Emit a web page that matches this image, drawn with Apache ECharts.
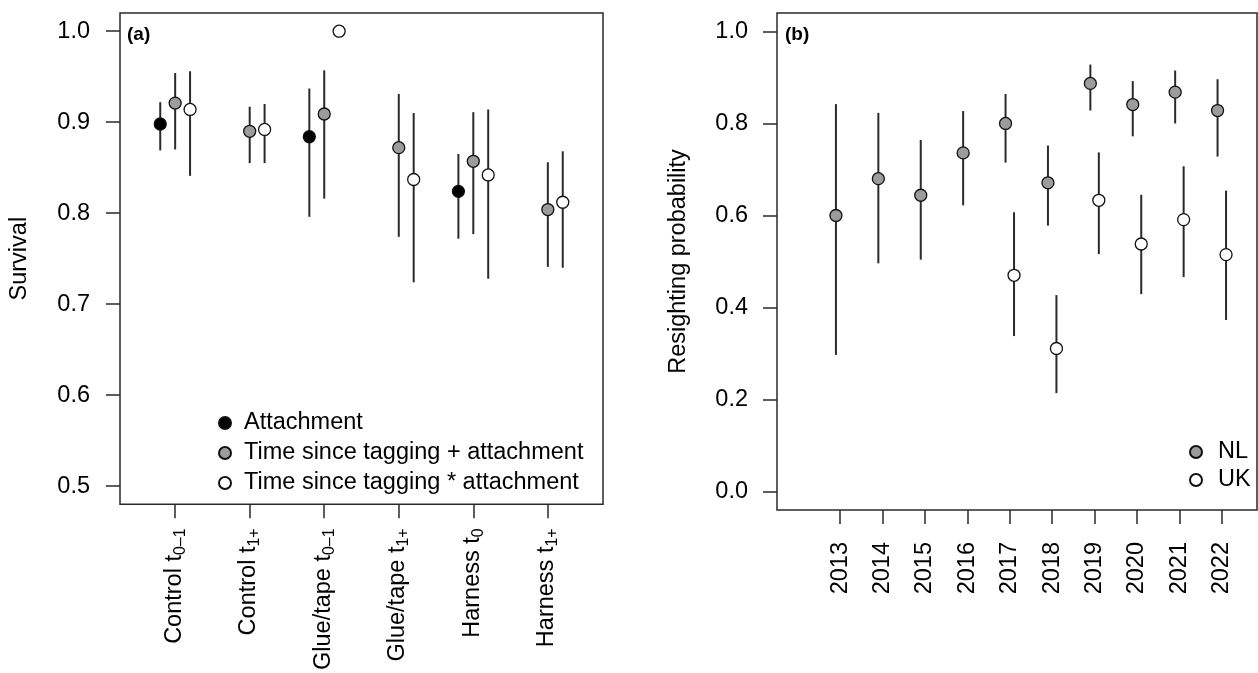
<!DOCTYPE html>
<html><head><meta charset="utf-8">
<script src="https://cdn.jsdelivr.net/npm/echarts@6/dist/echarts.min.js"></script>
<style>html,body{margin:0;padding:0;background:#fff}#c{width:1258px;height:673px}</style>
</head><body><div id="c"></div>
<script>
// ---- Panel (a): survival ----
const treatMain = ['Control t', 'Control t', 'Glue/tape t', 'Glue/tape t', 'Harness t', 'Harness t'];
const treatSub = ['0\u20131', '1+', '0\u20131', '1+', '0', '1+'];
const survTicks = [0.5, 0.6, 0.7, 0.8, 0.9, 1.0];
const attachMean = [0.898, null, 0.884, null, 0.824, null];
const attachLo   = [0.869, null, 0.796, null, 0.772, null];
const attachHi   = [0.922, null, 0.937, null, 0.865, null];
const addMean = [0.921, 0.890, 0.909, 0.872, 0.857, 0.804];
const addLo   = [0.870, 0.855, 0.816, 0.774, 0.777, 0.741];
const addHi   = [0.954, 0.917, 0.957, 0.931, 0.911, 0.856];
const intMean = [0.914, 0.892, 1.000, 0.837, 0.842, 0.812];
const intLo   = [0.841, 0.855, null, 0.724, 0.728, 0.740];
const intHi   = [0.956, 0.920, null, 0.910, 0.914, 0.868];
const seriesNamesA = ['Attachment', 'Time since tagging + attachment', 'Time since tagging * attachment'];

// ---- Panel (b): resighting probability ----
const years = [2013, 2014, 2015, 2016, 2017, 2018, 2019, 2020, 2021, 2022];
const probTicks = [0, 0.2, 0.4, 0.6, 0.8, 1.0];
const nlMean = [0.600, 0.680, 0.644, 0.736, 0.800, 0.671, 0.887, 0.841, 0.868, 0.828];
const nlLo   = [0.297, 0.496, 0.504, 0.622, 0.715, 0.578, 0.828, 0.772, 0.800, 0.728];
const nlHi   = [0.842, 0.823, 0.764, 0.827, 0.864, 0.752, 0.928, 0.892, 0.915, 0.896];
const ukMean = [null, null, null, null, 0.470, 0.311, 0.633, 0.538, 0.591, 0.515];
const ukLo   = [null, null, null, null, 0.338, 0.214, 0.516, 0.429, 0.466, 0.373];
const ukHi   = [null, null, null, null, 0.607, 0.427, 0.737, 0.645, 0.707, 0.654];
const seriesNamesB = ['NL', 'UK'];

const FONT = "'Liberation Sans', Arial, Helvetica, sans-serif";
const TXT = '#000';
const LINE = '#2a2a2a';
const FS = 23.5;

const catPos = treatMain.map((_, i) => i + 1);

function pts(xs, mean, off) {
  return mean.map((v, i) => v == null ? null : [xs[i] + off, v]).filter(Boolean);
}
function bars(xs, lo, hi, off) {
  return lo.map((v, i) => (v == null || hi[i] == null) ? null : [xs[i] + off, v, hi[i]]).filter(Boolean);
}
function errSeries(data, gi) {
  return {
    type: 'custom', xAxisIndex: gi, yAxisIndex: gi, silent: true, z: 1, data: data,
    encode: { x: 0, y: [1, 2] },
    renderItem: function (p, api) {
      const a = api.coord([api.value(0), api.value(1)]);
      const b = api.coord([api.value(0), api.value(2)]);
      return { type: 'line', shape: { x1: a[0], y1: a[1], x2: b[0], y2: b[1] },
               style: { stroke: LINE, lineWidth: 2 } };
    }
  };
}
function ptSeries(name, data, gi, fill) {
  return {
    type: 'scatter', name: name, xAxisIndex: gi, yAxisIndex: gi, z: 3, data: data,
    symbol: 'circle', symbolSize: 12, emphasis: { disabled: true },
    itemStyle: { color: fill, borderColor: '#111', borderWidth: 1.3, opacity: 1 }
  };
}

const tickStyle = { show: true, length: 14, lineStyle: { color: LINE, width: 1.5 } };

const option = {
  animation: false,
  backgroundColor: '#fff',
  textStyle: { fontFamily: FONT },
  title: [
    { text: '(a)', left: 127, top: 25, padding: 0, textStyle: { fontSize: 19, fontWeight: 'bold', color: TXT, fontFamily: FONT } },
    { text: '(b)', left: 785, top: 25, padding: 0, textStyle: { fontSize: 19, fontWeight: 'bold', color: TXT, fontFamily: FONT } }
  ],
  grid: [
    { left: 120, top: 13, width: 483, height: 497, show: true, borderColor: LINE, borderWidth: 1.5, backgroundColor: 'transparent' },
    { left: 777, top: 13, width: 480, height: 497, show: true, borderColor: LINE, borderWidth: 1.5, backgroundColor: 'transparent' }
  ],
  legend: [
    {
      data: seriesNamesA.map(n => ({ name: n, icon: 'circle' })),
      orient: 'vertical', left: 218, top: 411, itemWidth: 12, itemHeight: 12, itemGap: 6,
      selectedMode: false, padding: 0,
      textStyle: { fontSize: FS, color: TXT, fontFamily: FONT, padding: [0, 0, 0, 8] }
    },
    {
      data: seriesNamesB.map(n => ({ name: n, icon: 'circle' })),
      orient: 'vertical', left: 1189, top: 440, itemWidth: 12, itemHeight: 12, itemGap: 4,
      selectedMode: false, padding: 0,
      textStyle: { fontSize: FS, color: TXT, fontFamily: FONT, padding: [0, 0, 0, 11] }
    }
  ],
  xAxis: [
    {
      type: 'value', gridIndex: 0, min: 0.26, max: 6.74,
      splitLine: { show: false }, axisLine: { show: false, onZero: false },
      axisTick: Object.assign({ customValues: catPos }, tickStyle),
      axisLabel: {
        customValues: catPos, rotate: 90, margin: 24,
        formatter: v => { const i = Math.round(v) - 1; return '{m|' + treatMain[i] + '}{s|' + treatSub[i] + '}'; },
        rich: {
          m: { fontSize: FS, lineHeight: 26, verticalAlign: 'top', color: TXT, fontFamily: FONT },
          s: { fontSize: 16, lineHeight: 16, verticalAlign: 'bottom', padding: [15, 0, 0, 0], color: TXT, fontFamily: FONT }
        }
      }
    },
    {
      type: 'value', gridIndex: 1, min: 2011.51, max: 2022.83,
      splitLine: { show: false }, axisLine: { show: false, onZero: false },
      axisTick: Object.assign({ customValues: years }, tickStyle),
      axisLabel: { customValues: years, rotate: 90, margin: 32, fontSize: FS, color: TXT, fontFamily: FONT,
                   formatter: v => String(Math.round(v)) }
    }
  ],
  yAxis: [
    {
      type: 'value', gridIndex: 0, min: 0.48, max: 1.02,
      name: 'Survival', nameLocation: 'middle', nameGap: 88,
      nameTextStyle: { fontSize: FS, color: TXT, fontFamily: FONT },
      splitLine: { show: false }, axisLine: { show: false, onZero: false },
      axisTick: Object.assign({ customValues: survTicks }, tickStyle),
      axisLabel: { customValues: survTicks, margin: 30, fontSize: FS, color: TXT, fontFamily: FONT, formatter: v => v.toFixed(1) }
    },
    {
      type: 'value', gridIndex: 1, min: -0.04, max: 1.04,
      name: 'Resighting probability', nameLocation: 'middle', nameGap: 86,
      nameTextStyle: { fontSize: FS, color: TXT, fontFamily: FONT },
      splitLine: { show: false }, axisLine: { show: false, onZero: false },
      axisTick: Object.assign({ customValues: probTicks }, tickStyle),
      axisLabel: { customValues: probTicks, margin: 29, fontSize: FS, color: TXT, fontFamily: FONT, formatter: v => v.toFixed(1) }
    }
  ],
  series: [
    errSeries(bars(catPos, attachLo, attachHi, -0.2), 0),
    errSeries(bars(catPos, addLo, addHi, 0), 0),
    errSeries(bars(catPos, intLo, intHi, 0.2), 0),
    ptSeries(seriesNamesA[0], pts(catPos, attachMean, -0.2), 0, '#000'),
    ptSeries(seriesNamesA[1], pts(catPos, addMean, 0), 0, '#9c9c9c'),
    ptSeries(seriesNamesA[2], pts(catPos, intMean, 0.2), 0, '#fff'),
    errSeries(bars(years, nlLo, nlHi, -0.1), 1),
    errSeries(bars(years, ukLo, ukHi, 0.1), 1),
    ptSeries(seriesNamesB[0], pts(years, nlMean, -0.1), 1, '#9c9c9c'),
    ptSeries(seriesNamesB[1], pts(years, ukMean, 0.1), 1, '#fff')
  ]
};

const chart = echarts.init(document.getElementById('c'), null, { renderer: 'canvas' });
chart.setOption(option);
</script>
</body></html>
